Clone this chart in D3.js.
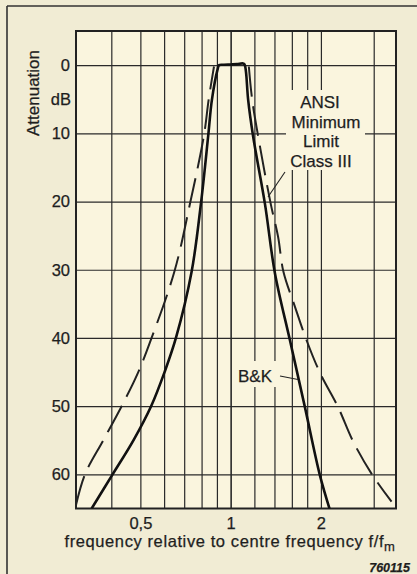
<!DOCTYPE html>
<html>
<head>
<meta charset="utf-8">
<script src="https://cdn.jsdelivr.net/npm/d3@7"></script>
<style>
  html, body { margin: 0; padding: 0; background: #f1ecd4; }
  svg { display: block; }
  text { font-family: "Liberation Sans", Arial, Helvetica, sans-serif; fill: #1e1e1e; stroke: #1e1e1e; stroke-width: 0.25px; }
</style>
</head>
<body>
<svg id="chart" width="417" height="574"></svg>
<script>
// ---- data ----
const gridFreqs = [0.4, 0.5, 0.6, 0.7, 0.8, 0.9, 1, 1.2, 1.4, 1.6, 1.8, 2, 3];
const xLabelValues = [0.5, 1, 2];
const xLabelTexts = ["0,5", "1", "2"];
const yTickValues = [0, 10, 20, 30, 40, 50, 60];

// B&K filter response (solid)
const bkFreq  = [0.344, 0.404, 0.474, 0.543, 0.602, 0.657, 0.741, 0.796, 0.842, 0.866, 0.905, 0.915, 0.95, 1.0, 1.05, 1.10, 1.113, 1.125, 1.144, 1.189, 1.301, 1.405, 1.576, 1.768, 1.984, 2.143];
const bkAtten = [65, 60, 55, 50, 45, 40, 30.3, 20.3, 10.3, 5.1, 0.6, 0.0, -0.05, -0.1, -0.15, -0.25, -0.1, 1.0, 5.1, 10.5, 20.3, 30.5, 40.3, 50.1, 60.1, 65.2];

// ANSI minimum limit Class III (dashed), lower and upper branches
const ansiLowFreq  = [0.305, 0.3267, 0.376, 0.433, 0.492, 0.545, 0.649, 0.732, 0.815, 0.845, 0.880];
const ansiLowAtten = [64.5, 60, 55, 50, 45, 40, 30.3, 20.3, 10.25, 5, 0.2];
const ansiHighFreq  = [1.15, 1.18, 1.236, 1.36, 1.44, 1.50, 1.638, 1.79, 1.99, 2.28, 2.563, 2.97, 3.44];
const ansiHighAtten = [0.2, 5.1, 10.5, 20.3, 25.2, 30.3, 35.4, 40.3, 45.2, 50.1, 55.2, 60.1, 64];

// ---- layout ----
const svg = d3.select("#chart");
const W = 417, H = 574;
const pL = 76, pR = 396, pT = 31, pB = 508.5;
const plotBg = "#faf5de";
const ink = "#222";

const x = d3.scaleLog().domain([0.305, 3.56]).range([pL, pR]);
const y = d3.scaleLinear().domain([-5, 65]).range([pT, pB]);

svg.append("rect").attr("width", W).attr("height", H).attr("fill", "#f1ecd4");
// outer frame (left + top)
svg.append("line").attr("x1", 7).attr("y1", 6).attr("x2", 7).attr("y2", H).attr("stroke", "#333").attr("stroke-width", 1.6);
svg.append("line").attr("x1", 7).attr("y1", 6).attr("x2", W).attr("y2", 6).attr("stroke", "#333").attr("stroke-width", 1.6);

svg.append("rect").attr("x", pL).attr("y", pT).attr("width", pR - pL).attr("height", pB - pT).attr("fill", plotBg);

// grid via axes
const gx = svg.append("g").attr("transform", `translate(0,${pB})`)
  .call(d3.axisBottom(x).tickValues(gridFreqs).tickSize(-(pB - pT)).tickFormat(""));
gx.select(".domain").remove();
gx.selectAll(".tick line").attr("stroke", "#2a2a2a").attr("stroke-width", d => d === 1 ? 1.6 : 1.2);

const gy = svg.append("g").attr("transform", `translate(${pL},0)`)
  .call(d3.axisLeft(y).tickValues(yTickValues).tickSize(-(pR - pL)).tickFormat(""));
gy.select(".domain").remove();
gy.selectAll(".tick line").attr("stroke", "#2a2a2a").attr("stroke-width", 1.2);

// label boxes hiding grid
svg.append("rect").attr("x", 286).attr("y", 90).attr("width", 79).attr("height", 80).attr("fill", plotBg);
svg.append("rect").attr("x", 236).attr("y", 361).attr("width", 42).attr("height", 26).attr("fill", plotBg);

// frame
svg.append("rect").attr("x", pL).attr("y", pT).attr("width", pR - pL).attr("height", pB - pT)
  .attr("fill", "none").attr("stroke", ink).attr("stroke-width", 2);

// curves
svg.append("clipPath").attr("id", "plotclip").append("rect")
  .attr("x", pL).attr("y", pT).attr("width", pR - pL).attr("height", pB - pT);

const line = d3.line().x(d => x(d[0])).y(d => y(d[1])).curve(d3.curveCatmullRom.alpha(0.5));
const g = svg.append("g").attr("clip-path", "url(#plotclip)");

g.append("path").datum(ansiLowFreq.map((f, i) => [f, ansiLowAtten[i]]))
  .attr("d", line).attr("fill", "none").attr("stroke", ink).attr("stroke-width", 2)
  .attr("stroke-dasharray", "30,10");
g.append("path").datum(ansiHighFreq.map((f, i) => [f, ansiHighAtten[i]]))
  .attr("d", line).attr("fill", "none").attr("stroke", ink).attr("stroke-width", 2)
  .attr("stroke-dasharray", "30,10");
g.append("path").datum(bkFreq.map((f, i) => [f, bkAtten[i]]))
  .attr("d", line).attr("fill", "none").attr("stroke", "#111").attr("stroke-width", 2.6)
  .attr("stroke-linejoin", "round");

// y tick labels
const yl = svg.append("g").attr("transform", `translate(${pL},0)`)
  .call(d3.axisLeft(y).tickValues(yTickValues).tickSize(0).tickPadding(6).tickFormat(d3.format("d")));
yl.select(".domain").remove();
yl.selectAll("text").attr("font-size", 16.5).attr("fill", ink)
  .style("font-family", '"Liberation Sans", Arial, sans-serif');

svg.append("text").attr("x", 71).attr("y", y(5)).attr("dy", "0.35em").attr("text-anchor", "end")
  .attr("font-size", 16.5).text("dB");
svg.append("text").attr("transform", `translate(39,93) rotate(-90)`).attr("text-anchor", "middle")
  .attr("font-size", 17).text("Attenuation");

// x tick labels
const xl = svg.append("g").attr("transform", `translate(0,${pB})`)
  .call(d3.axisBottom(x).tickValues(xLabelValues).tickSize(0).tickPadding(9)
    .tickFormat(d => xLabelTexts[xLabelValues.indexOf(d)]));
xl.select(".domain").remove();
xl.selectAll("text").attr("font-size", 16.5).attr("fill", ink)
  .style("font-family", '"Liberation Sans", Arial, sans-serif');

// x title
const xt = svg.append("text").attr("x", 230).attr("y", 547).attr("text-anchor", "middle")
  .attr("font-size", 16.5).attr("letter-spacing", 0.6);
xt.append("tspan").text("frequency relative to centre frequency f/f");
xt.append("tspan").attr("font-size", 13).attr("dy", 4).text("m");

svg.append("text").attr("x", 410).attr("y", 572).attr("text-anchor", "end")
  .attr("font-size", 12.5).attr("font-style", "italic").attr("font-weight", "bold").text("760115");

// annotations
const ann = ["ANSI", "Minimum", "Limit", "Class III"];
const annY = [108, 127.5, 147, 166.5];
const annX = [320, 326, 321, 321];
ann.forEach((t, i) => {
  svg.append("text").attr("x", annX[i]).attr("y", annY[i]).attr("text-anchor", "middle")
    .attr("font-size", 17).text(t);
});
svg.append("line").attr("x1", 285).attr("y1", 172).attr("x2", 268).attr("y2", 197)
  .attr("stroke", ink).attr("stroke-width", 1.1);

svg.append("text").attr("x", 238).attr("y", 382).attr("font-size", 17).text("B&K");
svg.append("line").attr("x1", 280).attr("y1", 376).attr("x2", 298).attr("y2", 379.5)
  .attr("stroke", ink).attr("stroke-width", 1.1);
</script>
</body>
</html>
